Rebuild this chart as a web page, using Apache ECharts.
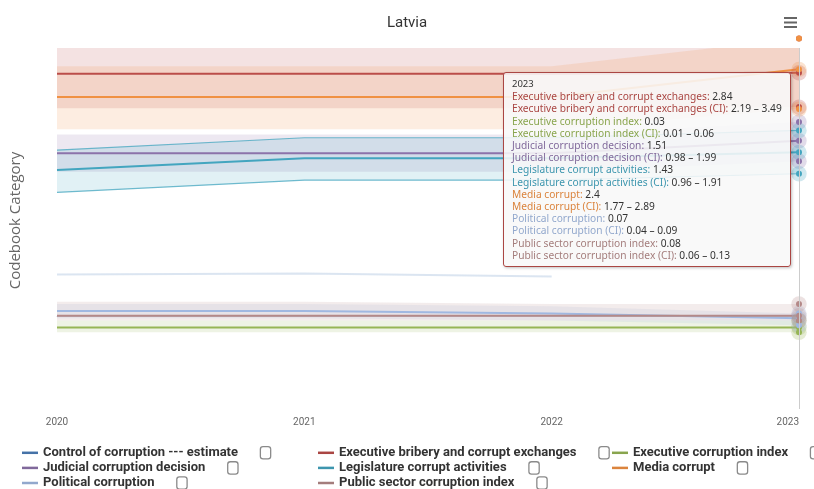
<!DOCTYPE html>
<html>
<head>
<meta charset="utf-8">
<script src="https://cdn.jsdelivr.net/npm/echarts@6/dist/echarts.min.js"></script>
<style>
  html, body { margin: 0; padding: 0; background: #fff; }
  #chart { width: 814px; height: 489px; }
</style>
</head>
<body>
<div id="chart"></div>
<script>
// ---------------- data ----------------
const years = ['2020', '2021', '2022', '2023'];

const controlOfCorruption = [0.84, 0.86, 0.80, null];

const execBribery     = [2.82, 2.82, 2.82, 2.84];
const execBriberyLow  = [2.17, 2.17, 2.17, 2.19];
const execBriberyHigh = [3.47, 3.47, 3.47, 3.49];

const execCorruption     = [0.03, 0.03, 0.03, 0.03];
const execCorruptionLow  = [0.01, 0.01, 0.01, 0.01];
const execCorruptionHigh = [0.06, 0.06, 0.06, 0.06];

const judicial     = [1.19, 1.19, 1.19, 1.51];
const judicialLow  = [0.71, 0.71, 0.71, 0.98];
const judicialHigh = [1.67, 1.67, 1.67, 1.99];

const legislature     = [1.04, 1.30, 1.30, 1.43];
const legislatureLow  = [0.55, 0.82, 0.82, 0.96];
const legislatureHigh = [1.48, 1.75, 1.75, 1.91];

const media     = [1.96, 1.96, 1.96, 2.4];
const mediaLow  = [1.45, 1.45, 1.45, 1.77];
const mediaHigh = [2.45, 2.45, 2.45, 2.89];

const political     = [0.10, 0.10, 0.09, 0.07];
const politicalLow  = [0.07, 0.07, 0.06, 0.04];
const politicalHigh = [0.13, 0.13, 0.12, 0.09];

const publicSector     = [0.08, 0.08, 0.08, 0.08];
const publicSectorLow  = [0.06, 0.06, 0.06, 0.06];
const publicSectorHigh = [0.14, 0.14, 0.13, 0.13];

// ---------------- presentation ----------------
// each series family is drawn on its own (hidden) value axis
const AXES = [
  { min: -1.85,  max: 5.37 },   // 0 control of corruption (carries the axis title)
  { min: -3.53,  max: 3.31 },   // 1 executive bribery
  { min: -0.315, max: 1.215 },  // 2 0-1 indices
  { min: -5.387, max: 3.893 },  // 3 judicial
  { min: -4.199, max: 3.718 },  // 4 legislature
  { min: -2.983, max: 2.738 }   // 5 media
];

const SERIES = [
  { name: 'Control of corruption --- estimate', color: '#4572A7', axis: 0, v: controlOfCorruption, faded: true },
  { name: 'Executive bribery and corrupt exchanges', color: '#AA4643', axis: 1, v: execBribery, lo: execBriberyLow, hi: execBriberyHigh },
  { name: 'Executive corruption index', color: '#89A54E', axis: 2, v: execCorruption, lo: execCorruptionLow, hi: execCorruptionHigh },
  { name: 'Judicial corruption decision', color: '#80699B', axis: 3, v: judicial, lo: judicialLow, hi: judicialHigh },
  { name: 'Legislature corrupt activities', color: '#3D96AE', axis: 4, v: legislature, lo: legislatureLow, hi: legislatureHigh, edges: true },
  { name: 'Media corrupt', color: '#DB843D', axis: 5, v: media, lo: mediaLow, hi: mediaHigh },
  { name: 'Political corruption', color: '#92A8CD', axis: 2, v: political, lo: politicalLow, hi: politicalHigh },
  { name: 'Public sector corruption index', color: '#A47D7C', axis: 2, v: publicSector, lo: publicSectorLow, hi: publicSectorHigh }
];

const LEGEND_COLS = [
  ['Control of corruption --- estimate', 'Judicial corruption decision', 'Political corruption'],
  ['Executive bribery and corrupt exchanges', 'Legislature corrupt activities', 'Public sector corruption index'],
  ['Executive corruption index', 'Media corrupt']
];
const LEGEND_X = [22, 318, 612];

const HOVER_INDEX = 3;

// ---------------- build ----------------
const FONT = 'Roboto, "Noto Sans", sans-serif';
const series = [];

// CI bands (drawn first)
SERIES.forEach((s, i) => {
  if (!s.lo) return;
  const edge = s.edges
    ? { width: 1.2, color: s.color, opacity: 0.75 }
    : { width: 0, opacity: 0 };
  series.push({
    type: 'line', name: s.name + ' (CI) low', stack: 'ci' + i, yAxisIndex: s.axis,
    data: s.lo, symbol: 'none', lineStyle: edge, silent: true, z: 1
  });
  series.push({
    type: 'line', name: s.name + ' (CI)', stack: 'ci' + i, yAxisIndex: s.axis,
    data: s.hi.map((h, k) => +(h - s.lo[k]).toFixed(4)),
    symbol: 'none', lineStyle: edge, silent: true, z: 1,
    areaStyle: { color: s.color, opacity: 0.16 }
  });
});

// main lines
const mainIndex = {};
SERIES.forEach((s) => {
  mainIndex[s.name] = series.length;
  series.push({
    type: 'line', name: s.name, yAxisIndex: s.axis, data: s.v,
    symbol: 'none', z: 3,
    itemStyle: { color: s.color },
    lineStyle: { width: 2, color: s.faded ? 'rgba(69,114,167,0.2)' : s.color }
  });
});

// hover markers at the hovered year (halo + dot)
SERIES.forEach((s) => {
  if (s.v[HOVER_INDEX] == null) return;
  const ax = AXES[s.axis];
  const vals = [s.v[HOVER_INDEX]];
  if (s.lo) { vals.push(s.lo[HOVER_INDEX], s.hi[HOVER_INDEX]); }
  const pts = vals.map(v => [years[HOVER_INDEX], v]);
  const inside = pts.filter(p => p[1] >= ax.min && p[1] <= ax.max);
  series.push({
    type: 'scatter', yAxisIndex: s.axis, data: inside, symbolSize: 14,
    itemStyle: { color: s.color, opacity: 0.25 }, clip: false, silent: true, z: 4
  });
  series.push({
    type: 'scatter', yAxisIndex: s.axis, data: pts, symbolSize: 4.5,
    itemStyle: { color: s.color, opacity: 1 }, clip: false, silent: true, z: 5
  });
});

const yAxis = AXES.map((a, i) => i === 0 ? {
  type: 'value', min: a.min, max: a.max, position: 'left',
  name: 'Codebook Category', nameLocation: 'middle', nameGap: 34, nameRotate: 90,
  nameTextStyle: { fontFamily: '"Open Sans", sans-serif', fontSize: 15, color: '#666', padding: [0, 0, 0, 16] },
  axisLine: { show: false }, axisTick: { show: false }, axisLabel: { show: false }, splitLine: { show: false }
} : {
  type: 'value', min: a.min, max: a.max, show: false, splitLine: { show: false }
});

const legends = LEGEND_COLS.map((col, c) => ({
  orient: 'vertical', left: LEGEND_X[c], top: 446, height: 60, padding: 0, itemGap: 1.5,
  itemWidth: 16, itemHeight: 2.5, selectedMode: false,
  data: col.map(n => {
    const s = SERIES.find(x => x.name === n);
    return { name: n, icon: 'rect', itemStyle: { color: s.color, opacity: 1 } };
  }),
  formatter: n => '{t|' + n + '}{s|}{b|}',
  textStyle: {
    rich: {
      t: { fontFamily: FONT, fontSize: 13, fontWeight: 'bold', color: '#333', lineHeight: 14 },
      s: { width: 23 },
      b: { width: 9, height: 11, borderColor: '#8a8a8a', borderWidth: 1.3, borderRadius: 2, backgroundColor: '#fff' }
    }
  }
}));

function fmtTip(params) {
  const i = params[0].dataIndex;
  let html = '<div style="font-size:9.5px;color:#333;line-height:12.2px">' + years[i] + '</div>';
  SERIES.forEach(s => {
    if (s.v[i] == null) return;
    html += '<div style="line-height:12.2px"><span style="color:' + s.color + '">' + s.name + ': </span>' +
            '<span style="color:#333">' + s.v[i] + '</span></div>';
    if (s.lo) {
      html += '<div style="line-height:12.2px"><span style="color:' + s.color + '">' + s.name + ' (CI): </span>' +
              '<span style="color:#333">' + s.lo[i] + ' \u2013 ' + s.hi[i] + '</span></div>';
    }
  });
  return html;
}

const option = {
  animation: false,
  backgroundColor: '#fff',
  title: {
    text: 'Latvia', left: 'center', top: 11,
    textStyle: { fontFamily: FONT, fontSize: 15, fontWeight: 'normal', color: '#333' }
  },
  toolbox: {
    right: 2, top: 2, itemSize: 13,
    feature: {
      myMenu: {
        show: true, title: 'Menu',
        icon: 'path://M0,0H20V3H0Z M0,7H20V10H0Z M0,14H20V17H0Z',
        onclick: function () {}
      }
    },
    iconStyle: { color: '#666', borderColor: '#666', borderWidth: 0 }
  },
  grid: { left: 51, right: 15, top: 48, bottom: 80 },
  tooltip: {
    trigger: 'axis', triggerOn: 'none', alwaysShowContent: true, transitionDuration: 0,
    position: [503, 72],
    backgroundColor: 'rgba(248,248,248,0.88)', borderColor: '#AA4643', borderWidth: 1,
    padding: [5, 8],
    textStyle: { fontFamily: '"Noto Sans", sans-serif', fontSize: 10.2, color: '#333' },
    extraCssText: 'border-radius:3px;box-shadow:1px 1px 3px rgba(0,0,0,0.25);',
    axisPointer: { type: 'line', lineStyle: { color: '#cccccc', width: 1, type: 'solid' }, animation: false },
    formatter: fmtTip
  },
  xAxis: {
    type: 'category', data: years, boundaryGap: false,
    axisLine: { lineStyle: { color: '#CCD6EB' } },
    axisTick: { show: false },
    axisLabel: { color: '#666', fontFamily: FONT, fontSize: 10, margin: 8, alignMaxLabel: 'right' },
    splitLine: { show: false }
  },
  yAxis: yAxis,
  legend: legends,
  series: series
};

const chart = echarts.init(document.getElementById('chart'), null, { renderer: 'canvas' });
chart.setOption(option);
chart.dispatchAction({ type: 'showTip', seriesIndex: mainIndex['Executive bribery and corrupt exchanges'], dataIndex: HOVER_INDEX });
</script>
</body>
</html>
